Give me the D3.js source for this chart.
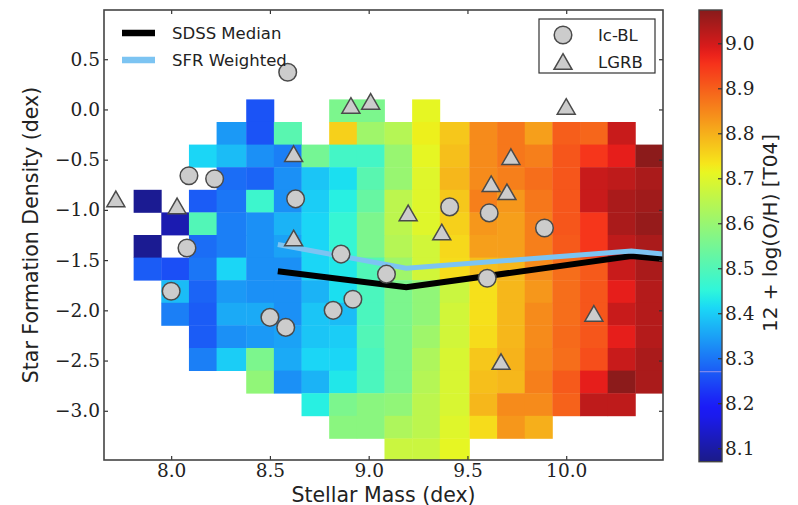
<!DOCTYPE html>
<html>
<head>
<meta charset="utf-8">
<script src="https://cdn.jsdelivr.net/npm/d3@7/dist/d3.min.js"></script>
<style>
  body { margin: 0; background: #fff; }
  svg text { fill: #222; }
  .tick-label { font-family: "DejaVu Serif", serif; font-size: 18.5px; }
  .axis-title { font-family: "DejaVu Sans", sans-serif; font-size: 20.5px; }
  .legend-text { font-family: "DejaVu Sans", sans-serif; font-size: 16.5px; }
</style>
</head>
<body>
<svg id="chart" width="798" height="505"></svg>
<script>
// bin edges of the 2D histogram (stellar mass, star formation density)
const massEdges = [7.81, 7.95, 8.09, 8.23, 8.38, 8.52, 8.66, 8.80, 8.94, 9.08,
  9.22, 9.36, 9.51, 9.65, 9.79, 9.93, 10.07, 10.21, 10.35, 10.49];
const sfdEdges = [0.10, -0.125, -0.35, -0.575, -0.80, -1.025, -1.25, -1.475, -1.70,
  -1.925, -2.15, -2.375, -2.60, -2.825, -3.05, -3.275, -3.50];

// median 12+log(O/H) per cell, rows from top (high SFD) to bottom
const metallicity = [
  [null, null, null, null, 8.26, null, null, 8.56, 8.56, null, 8.71, null, null, null, null, null, null, null, null],
  [null, null, null, 8.34, 8.26, 8.51, null, 8.76, 8.61, 8.64, 8.72, 8.77, 8.845, 8.87, 8.82, 8.90, 8.89, 9.01, null],
  [null, null, 8.41, 8.38, 8.33, 8.31, 8.55, 8.48, 8.48, 8.60, 8.71, 8.78, 8.845, 8.87, 8.86, 8.91, 8.95, 8.98, 9.07],
  [null, null, null, 8.29, 8.28, 8.33, 8.39, 8.42, 8.51, 8.60, 8.70, 8.79, 8.845, 8.86, 8.88, 8.91, 9.01, 9.02, 9.04],
  [8.08, null, 8.27, 8.30, 8.47, 8.33, 8.40, 8.44, 8.53, 8.65, 8.70, 8.77, 8.86, 8.83, 8.87, 8.91, 9.01, 9.04, 9.05],
  [null, 8.11, 8.50, 8.31, 8.33, 8.37, 8.41, 8.46, 8.56, 8.65, 8.70, 8.76, 8.83, 8.82, 8.86, 8.91, 8.95, 9.04, 9.06],
  [8.08, null, 8.29, 8.31, 8.33, 8.35, 8.41, 8.46, 8.56, 8.64, 8.68, 8.75, 8.82, 8.82, 8.86, 8.905, 8.95, 9.02, 9.04],
  [8.27, 8.255, 8.30, 8.41, 8.33, 8.33, 8.41, 8.43, 8.50, 8.61, 8.68, 8.745, 8.78, 8.79, 8.845, 8.88, 8.905, 9.01, 9.04],
  [null, 8.38, 8.28, 8.34, 8.33, 8.33, 8.37, 8.42, 8.49, 8.56, 8.59, 8.67, 8.74, 8.79, 8.83, 8.88, 8.91, 8.98, 9.03],
  [null, 8.31, 8.27, 8.36, 8.36, 8.33, 8.39, 8.38, 8.49, 8.56, 8.59, 8.68, 8.74, 8.79, 8.845, 8.88, 8.91, 9.01, 9.03],
  [null, null, 8.27, 8.33, 8.34, 8.35, 8.39, 8.40, 8.50, 8.56, 8.61, 8.68, 8.745, 8.79, 8.845, 8.885, 8.91, 8.98, 9.03],
  [null, null, 8.31, 8.40, 8.56, 8.36, 8.41, 8.41, 8.49, 8.56, 8.63, 8.69, 8.77, 8.795, 8.85, 8.88, 8.92, 9.01, 9.04],
  [null, null, null, null, 8.59, 8.33, 8.37, 8.43, 8.49, 8.56, 8.64, 8.69, 8.78, 8.79, 8.86, 8.905, 8.98, 9.07, 9.04],
  [null, null, null, null, null, null, 8.44, 8.56, 8.58, 8.59, 8.65, 8.69, 8.79, 8.845, 8.845, 8.895, 9.02, 9.02, null],
  [null, null, null, null, null, null, null, 8.58, 8.58, 8.63, 8.65, 8.70, 8.745, 8.83, 8.80, null, null, null, null],
  [null, null, null, null, null, null, null, null, null, 8.67, 8.67, 8.71, null, null, null, null, null, null, null]
];

// SDSS trend lines
const trendMass = [8.54, 9.19, 10.33, 10.50];
const sdssMedian = [-1.61, -1.77, -1.46, -1.49];
const sfrWeighted = [-1.345, -1.58, -1.41, -1.44];

// Ic-BL hosts
const icblMass = [8.59, 8.09, 8.22, 8.63, 8.08, 8.86, 8.00, 8.50, 8.58, 8.82, 8.92, 9.09, 9.41, 9.61, 9.89, 9.60];
const icblSfd = [0.37, -0.66, -0.69, -0.89, -1.38, -1.44, -1.81, -2.07, -2.17, -2.00, -1.89, -1.64, -0.97, -1.03, -1.18, -1.68];

// LGRB hosts
const lgrbMass = [7.72, 8.03, 8.62, 8.62, 8.91, 9.01, 10.00, 9.72, 9.62, 9.70, 9.20, 9.37, 10.14, 9.67];
const lgrbSfd = [-0.89, -0.96, -0.44, -1.28, 0.04, 0.08, 0.03, -0.47, -0.74, -0.82, -1.03, -1.22, -2.03, -2.51];

const xTicks = [8.0, 8.5, 9.0, 9.5, 10.0];
const yTicks = [0.5, 0.0, -0.5, -1.0, -1.5, -2.0, -2.5, -3.0];
const cbarTicks = [8.1, 8.2, 8.3, 8.4, 8.5, 8.6, 8.7, 8.8, 8.9, 9.0];
const cbarRange = [8.07, 9.074];
const cbarGlitch = 8.27;

const svg = d3.select("#chart");
const plot = { left: 104, right: 663, top: 10, bottom: 460 };
const bar = { left: 699, right: 722, top: 10, bottom: 461.7 };

const x = d3.scaleLinear().domain([7.66, 10.49]).range([plot.left, plot.right]);
const y = d3.scaleLinear().domain([-3.49, 0.99]).range([plot.bottom, plot.top]);

// matplotlib "jet", softened a little like the printed figure
const jetR = d3.scaleLinear().domain([0, 0.35, 0.66, 0.89, 1]).range([0, 0, 1, 1, 0.5]).clamp(true);
const jetG = d3.scaleLinear().domain([0, 0.125, 0.375, 0.64, 0.91, 1]).range([0, 0, 1, 1, 0, 0]).clamp(true);
const jetB = d3.scaleLinear().domain([0, 0.11, 0.34, 0.65, 1]).range([0.5, 1, 1, 0, 0]).clamp(true);
const norm = d3.scaleLinear().domain(cbarRange).range([0, 1]).clamp(true);
function jet(t) {
  const c = d3.rgb(jetR(t) * 255, jetG(t) * 255, jetB(t) * 255);
  return d3.interpolateRgb(c, "#bebebe")(0.14);
}
const color = (v) => jet(norm(v));

const defs = svg.append("defs");
defs.append("clipPath").attr("id", "plot-clip")
  .append("rect")
  .attr("x", plot.left).attr("y", plot.top)
  .attr("width", plot.right - plot.left).attr("height", plot.bottom - plot.top);

// heatmap cells
const cells = [];
metallicity.forEach((row, r) => {
  row.forEach((v, c) => {
    if (v !== null) cells.push({ r, c, v });
  });
});

const body = svg.append("g").attr("clip-path", "url(#plot-clip)");

body.append("g")
  .selectAll("rect")
  .data(cells)
  .join("rect")
  .attr("x", (d) => x(massEdges[d.c]))
  .attr("y", (d) => y(sfdEdges[d.r]))
  .attr("width", (d) => x(massEdges[d.c + 1]) - x(massEdges[d.c]) + 0.4)
  .attr("height", (d) => y(sfdEdges[d.r + 1]) - y(sfdEdges[d.r]) + 0.4)
  .attr("fill", (d) => color(d.v));

// trend lines
const line = (vals) => d3.line()
  .x((_, i) => x(trendMass[i]))
  .y((d) => y(d))(vals);

body.append("path")
  .attr("d", line(sdssMedian))
  .attr("fill", "none")
  .attr("stroke", "#000")
  .attr("stroke-width", 6);

body.append("path")
  .attr("d", line(sfrWeighted))
  .attr("fill", "none")
  .attr("stroke", "#7cc4f2")
  .attr("stroke-width", 5);

// markers
const markerFill = "#cccccc";
const markerStroke = "#4a4a4a";
const triSize = 140;
const triShift = Math.sqrt(triSize / (3 * Math.sqrt(3))) / 2;
const triangle = d3.symbol().type(d3.symbolTriangle).size(triSize);

body.append("g")
  .selectAll("path")
  .data(lgrbMass.map((m, i) => [m, lgrbSfd[i]]))
  .join("path")
  .attr("d", triangle)
  .attr("transform", (d) => `translate(${x(d[0])},${y(d[1]) + triShift})`)
  .attr("fill", markerFill)
  .attr("stroke", markerStroke)
  .attr("stroke-width", 1.5);

body.append("g")
  .selectAll("circle")
  .data(icblMass.map((m, i) => [m, icblSfd[i]]))
  .join("circle")
  .attr("cx", (d) => x(d[0]))
  .attr("cy", (d) => y(d[1]))
  .attr("r", 8.8)
  .attr("fill", markerFill)
  .attr("stroke", markerStroke)
  .attr("stroke-width", 1.5);

// axes
const fmt = d3.format(".1f");
function styleAxis(g, labels) {
  g.select(".domain").remove();
  g.selectAll(".tick line").attr("stroke", "#333").attr("stroke-width", 1.2);
  if (labels) {
    g.selectAll(".tick text").attr("class", "tick-label").attr("fill", "#222");
  } else {
    g.selectAll(".tick text").remove();
  }
}

svg.append("g")
  .attr("transform", `translate(0,${plot.bottom})`)
  .call(d3.axisBottom(x).tickValues(xTicks).tickSize(-4).tickPadding(4).tickFormat(fmt))
  .call((g) => styleAxis(g, true));

svg.append("g")
  .attr("transform", `translate(0,${plot.top})`)
  .call(d3.axisTop(x).tickValues(xTicks).tickSize(-4))
  .call((g) => styleAxis(g, false));

svg.append("g")
  .attr("transform", `translate(${plot.left},0)`)
  .call(d3.axisLeft(y).tickValues(yTicks).tickSize(-4).tickPadding(4).tickFormat(fmt))
  .call((g) => styleAxis(g, true));

svg.append("g")
  .attr("transform", `translate(${plot.right},0)`)
  .call(d3.axisRight(y).tickValues(yTicks).tickSize(-4))
  .call((g) => styleAxis(g, false));

svg.append("rect")
  .attr("x", plot.left).attr("y", plot.top)
  .attr("width", plot.right - plot.left).attr("height", plot.bottom - plot.top)
  .attr("fill", "none")
  .attr("stroke", "#444")
  .attr("stroke-width", 1.6);

svg.append("text")
  .attr("class", "axis-title")
  .attr("x", (plot.left + plot.right) / 2)
  .attr("y", 501.5)
  .attr("text-anchor", "middle")
  .text("Stellar Mass (dex)");

svg.append("text")
  .attr("class", "axis-title")
  .attr("transform", `translate(38,${(plot.top + plot.bottom) / 2}) rotate(-90)`)
  .attr("text-anchor", "middle")
  .text("Star Formation Density (dex)");

// line legend (no frame)
const lineLegend = [
  { label: "SDSS Median", color: "#000", yPos: 33 },
  { label: "SFR Weighted", color: "#7cc4f2", yPos: 60 }
];
const ll = svg.append("g");
ll.selectAll("line")
  .data(lineLegend)
  .join("line")
  .attr("x1", 122).attr("x2", 155)
  .attr("y1", (d) => d.yPos).attr("y2", (d) => d.yPos)
  .attr("stroke", (d) => d.color)
  .attr("stroke-width", 6.5);
ll.selectAll("text")
  .data(lineLegend)
  .join("text")
  .attr("class", "legend-text")
  .attr("x", 172)
  .attr("y", (d) => d.yPos)
  .attr("dy", "0.36em")
  .text((d) => d.label);

// marker legend (framed)
const ml = svg.append("g");
ml.append("rect")
  .attr("x", 539).attr("y", 19).attr("width", 116).attr("height", 54)
  .attr("fill", "#fff").attr("stroke", "#333").attr("stroke-width", 1.2);
ml.append("circle")
  .attr("cx", 563).attr("cy", 35).attr("r", 8.8)
  .attr("fill", markerFill).attr("stroke", markerStroke).attr("stroke-width", 1.5);
ml.append("path")
  .attr("d", triangle)
  .attr("transform", `translate(563,${61.5 + triShift})`)
  .attr("fill", markerFill).attr("stroke", markerStroke).attr("stroke-width", 1.5);
ml.selectAll("text")
  .data([["Ic-BL", 35], ["LGRB", 62]])
  .join("text")
  .attr("class", "legend-text")
  .attr("x", 598)
  .attr("y", (d) => d[1])
  .attr("dy", "0.36em")
  .text((d) => d[0]);

// colorbar
const cy = d3.scaleLinear().domain(cbarRange).range([bar.bottom, bar.top]);
const grad = defs.append("linearGradient")
  .attr("id", "jet-grad")
  .attr("x1", 0).attr("y1", 1).attr("x2", 0).attr("y2", 0);
grad.selectAll("stop")
  .data(d3.range(0, 1.0001, 0.02))
  .join("stop")
  .attr("offset", (d) => d)
  .attr("stop-color", (d) => jet(d));

svg.append("rect")
  .attr("x", bar.left).attr("y", bar.top)
  .attr("width", bar.right - bar.left).attr("height", bar.bottom - bar.top)
  .attr("fill", "url(#jet-grad)");

svg.append("line")
  .attr("x1", bar.left).attr("x2", bar.right)
  .attr("y1", cy(cbarGlitch)).attr("y2", cy(cbarGlitch))
  .attr("stroke", "#c9a9e8").attr("stroke-width", 1).attr("opacity", 0.7);

svg.append("rect")
  .attr("x", bar.left).attr("y", bar.top)
  .attr("width", bar.right - bar.left).attr("height", bar.bottom - bar.top)
  .attr("fill", "none").attr("stroke", "#444").attr("stroke-width", 1.4);

svg.append("g")
  .attr("transform", `translate(${bar.right},0)`)
  .call(d3.axisRight(cy).tickValues(cbarTicks).tickSize(-4).tickPadding(3).tickFormat(fmt))
  .call((g) => styleAxis(g, true));

svg.append("text")
  .attr("class", "axis-title")
  .style("font-size", "20px")
  .attr("transform", `translate(777,233) rotate(-90)`)
  .attr("text-anchor", "middle")
  .text("12 + log(O/H) [T04]");
</script>
</body>
</html>
